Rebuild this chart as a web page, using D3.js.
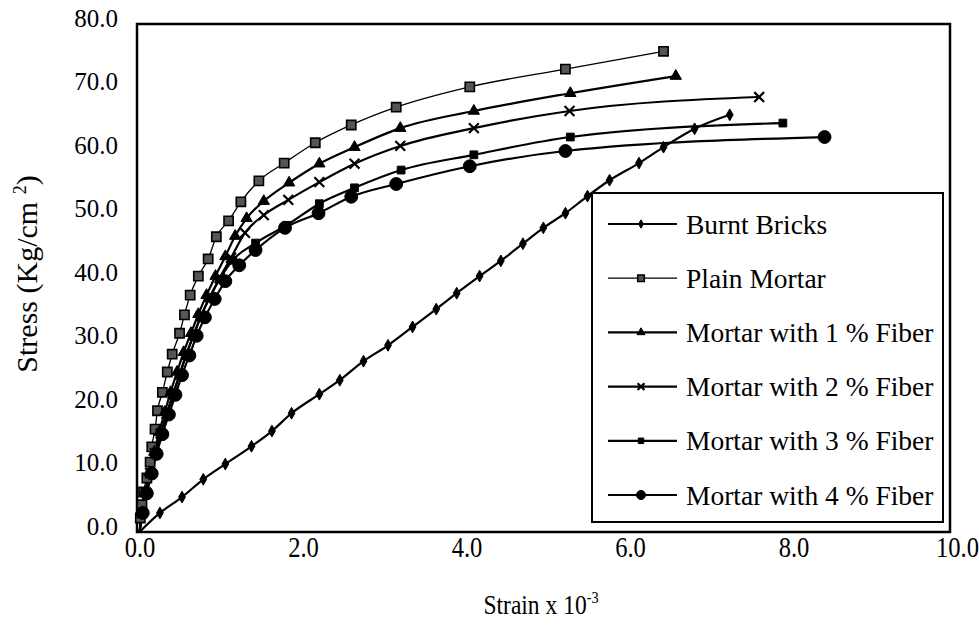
<!DOCTYPE html>
<html><head><meta charset="utf-8">
<script src="https://cdn.jsdelivr.net/npm/d3@7"></script>
<style>
body{margin:0;background:#fff}
svg{display:block}
text{font-family:"Liberation Serif","Times New Roman",serif;fill:#000}
</style>
</head><body>
<svg id="c" width="979" height="636"></svg>
<script>
// ---------------- data (strain x10^-3, stress kg/cm2) ----------------
const seriesNames = ["Burnt Bricks","Plain Mortar","Mortar with 1 % Fiber","Mortar with 2 % Fiber","Mortar with 3 % Fiber","Mortar with 4 % Fiber"];
const burntBricks = [[0,0],[0.25,3.0],[0.52,5.5],[0.78,8.3],[1.05,10.7],[1.37,13.5],[1.62,15.9],[1.86,18.7],[2.20,21.7],[2.45,23.9],[2.74,26.9],[3.04,29.4],[3.34,32.3],[3.63,35.1],[3.88,37.6],[4.16,40.3],[4.42,42.7],[4.69,45.4],[4.94,47.9],[5.21,50.2],[5.48,52.9],[5.75,55.4],[6.11,58.1],[6.41,60.6],[6.79,63.5],[7.22,65.7]];
const plainMortar = [[0,0],[0.01,2.2],[0.03,4.3],[0.05,6.3],[0.09,8.5],[0.13,11.0],[0.15,13.4],[0.19,16.2],[0.22,19.1],[0.28,22.0],[0.34,25.2],[0.40,28.0],[0.49,31.3],[0.55,34.2],[0.62,37.3],[0.72,40.3],[0.84,43.0],[0.94,46.5],[1.09,49.0],[1.24,52.0],[1.46,55.3],[1.77,58.1],[2.15,61.3],[2.59,64.1],[3.14,66.9],[4.04,70.1],[5.21,72.9],[6.41,75.7]];
const fiber1 = [[0,0],[0.03,3.1],[0.07,6.3],[0.12,9.4],[0.18,12.6],[0.24,15.7],[0.31,18.9],[0.38,22.0],[0.46,25.2],[0.54,28.3],[0.63,31.3],[0.72,34.3],[0.82,37.3],[0.93,40.3],[1.05,43.4],[1.17,46.6],[1.31,49.4],[1.52,52.1],[1.83,55.0],[2.20,58.0],[2.63,60.6],[3.19,63.6],[4.09,66.3],[5.27,69.1],[6.56,71.8]];
const fiber2 = [[0,0],[0.03,3.0],[0.08,6.2],[0.13,9.3],[0.19,12.4],[0.26,15.5],[0.33,18.6],[0.41,21.7],[0.49,24.8],[0.57,27.9],[0.66,31.0],[0.75,34.0],[0.86,37.0],[0.98,40.0],[1.12,43.2],[1.29,47.1],[1.52,49.9],[1.82,52.3],[2.20,55.1],[2.63,58.0],[3.19,60.8],[4.09,63.6],[5.26,66.3],[7.58,68.5]];
const fiber3 = [[0,0],[0.04,3.0],[0.08,6.1],[0.14,9.2],[0.20,12.3],[0.27,15.4],[0.34,18.5],[0.41,21.6],[0.49,24.7],[0.57,27.8],[0.66,30.9],[0.75,33.9],[0.86,36.9],[0.98,39.8],[1.14,42.8],[1.42,45.5],[1.80,48.3],[2.20,51.7],[2.63,54.2],[3.20,57.0],[4.09,59.4],[5.27,62.2],[7.87,64.4]];
const fiber4 = [[0,0],[0.04,3.0],[0.09,6.1],[0.15,9.2],[0.21,12.3],[0.28,15.4],[0.36,18.5],[0.44,21.6],[0.52,24.7],[0.61,27.8],[0.70,30.9],[0.80,33.8],[0.92,36.7],[1.05,39.5],[1.22,42.0],[1.42,44.4],[1.78,47.9],[2.19,50.2],[2.59,52.8],[3.14,54.8],[4.04,57.6],[5.21,60.0],[8.38,62.2]];
const xTicks = [0,2,4,6,8,10];
const yTicks = [0,10,20,30,40,50,60,70,80];

// ---------------- drawing ----------------
const svg = d3.select("#c");
const x = d3.scaleLinear().domain([0,10]).range([139.5,957]);
const y = d3.scaleLinear().domain([0,80]).range([532,24]);

// frame
svg.append("rect").attr("x",137).attr("y",24).attr("width",813).attr("height",508)
  .attr("fill","none").attr("stroke","#000").attr("stroke-width",2.5);

// y axis labels
const gy = svg.append("g").attr("transform","translate(137,0)")
  .call(d3.axisLeft(y).tickValues(yTicks).tickSize(0).tickPadding(19).tickFormat(d3.format(".1f")));
gy.select(".domain").remove();
gy.selectAll("text").attr("font-size",25).attr("font-family","Liberation Serif").attr("fill","#000").attr("transform","translate(0,-6)");

// x axis labels (condensed look)
const gx = svg.append("g").attr("transform","translate(0,532)")
  .call(d3.axisBottom(x).tickValues(xTicks).tickSize(0).tickPadding(4).tickFormat(d3.format(".1f")));
gx.select(".domain").remove();
gx.selectAll("text").attr("font-size",30).attr("font-family","Liberation Serif").attr("fill","#000").attr("transform","scale(0.82,1)");

// axis titles
const yt = svg.append("text").attr("transform","translate(37,274) rotate(-90)").attr("text-anchor","middle").attr("font-size",30);
yt.append("tspan").text("Stress (Kg/cm ");
yt.append("tspan").attr("dy",-11).attr("font-size",18).text("2");
yt.append("tspan").attr("dy",11).text(")");
const xt = svg.append("text").attr("transform","translate(541,614) scale(0.84,1)").attr("text-anchor","middle").attr("font-size",28);
xt.append("tspan").text("Strain x 10");
xt.append("tspan").attr("dy",-11).attr("font-size",17).text("-3");

// series definitions
const allData = [burntBricks, plainMortar, fiber1, fiber2, fiber3, fiber4];
const styles = [
  {w:2.2, sym:d3.symbolDiamond, size:40, fill:"#000", stroke:"#000", sw:1},
  {w:1.3, sym:d3.symbolSquare, size:85, fill:"#555", stroke:"#000", sw:1.6},
  {w:2.2, sym:d3.symbolTriangle, size:55, fill:"#000", stroke:"#000", sw:1},
  {w:2.2, sym:d3.symbolTimes, size:65, fill:"none", stroke:"#000", sw:2.2},
  {w:2.2, sym:d3.symbolSquare, size:60, fill:"#000", stroke:"#000", sw:1},
  {w:2.2, sym:d3.symbolCircle, size:130, fill:"#000", stroke:"#000", sw:1}
];
const line = d3.line().x(d=>x(d[0])).y(d=>y(d[1])).curve(d3.curveMonotoneX);

allData.forEach((data,i)=>{
  const s = styles[i];
  svg.append("path").datum(data).attr("d",line).attr("fill","none")
    .attr("stroke","#000").attr("stroke-width",s.w).attr("stroke-linejoin","round");
});
allData.forEach((data,i)=>{
  const s = styles[i];
  svg.append("g").selectAll("path").data(data.slice(1)).join("path")
    .attr("transform",d=>`translate(${x(d[0])},${y(d[1])})`)
    .attr("d",d3.symbol().type(s.sym).size(s.size))
    .attr("fill",s.fill).attr("stroke",s.stroke).attr("stroke-width",s.sw);
});

// legend
svg.append("rect").attr("x",592).attr("y",193).attr("width",351).attr("height",329)
  .attr("fill","#fff").attr("stroke","#000").attr("stroke-width",2);
seriesNames.forEach((name,i)=>{
  const s = styles[i];
  const ry = 224 + i*54.2;
  svg.append("line").attr("x1",608).attr("x2",677).attr("y1",ry).attr("y2",ry)
    .attr("stroke","#000").attr("stroke-width",s.w);
  svg.append("path").attr("transform",`translate(641,${ry})`)
    .attr("d",d3.symbol().type(s.sym).size(s.size*0.5))
    .attr("fill",s.fill).attr("stroke",s.stroke).attr("stroke-width",s.sw);
  svg.append("text").attr("x",686).attr("y",ry).attr("dy","0.35em").attr("font-size",27.5).text(name);
});
</script>
</body></html>
